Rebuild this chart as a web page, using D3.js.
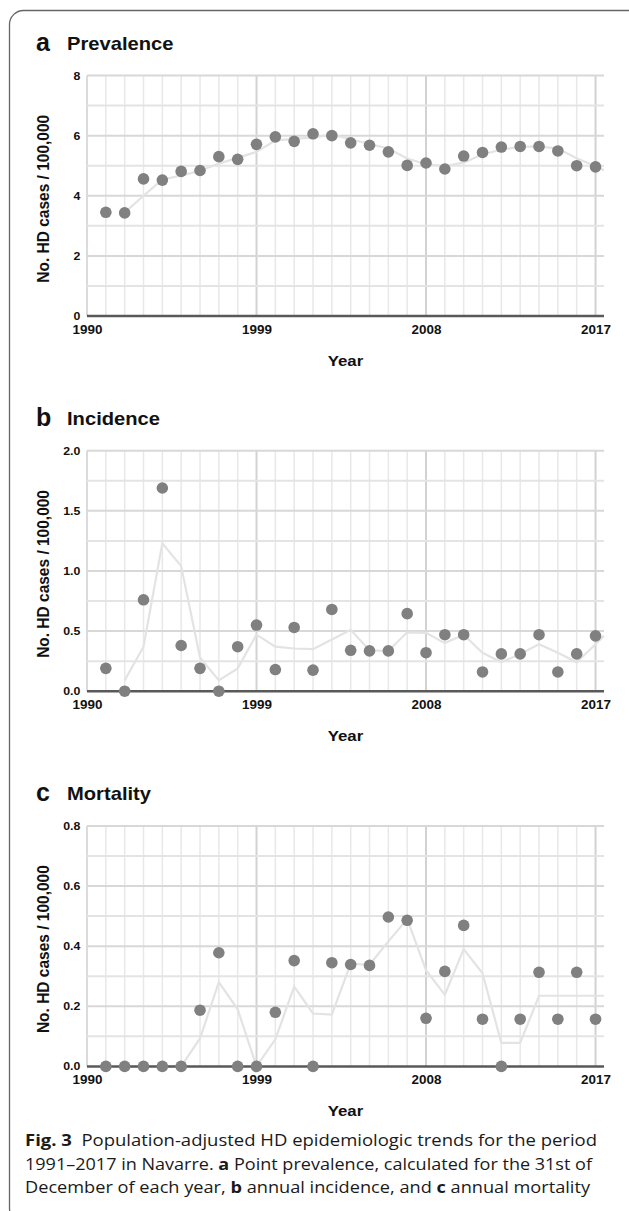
<!DOCTYPE html>
<html>
<head>
<meta charset="utf-8">
<script src="https://cdn.jsdelivr.net/npm/d3@7"></script>
<style>
  html, body { margin: 0; padding: 0; background: #fff; }
  svg { display: block; }
  .tick text { font-family: "Liberation Sans", Arial, sans-serif; font-weight: bold; fill: #111; }
  .chart-text { font-family: "Liberation Sans", Arial, sans-serif; font-weight: bold; fill: #111; }
  .caption { font-family: "Open Sans", "Noto Sans", sans-serif; fill: #1a1a1a; }
</style>
</head>
<body>
<svg id="fig" width="629" height="1211"></svg>
<script>
'use strict';

// ─── Data ────────────────────────────────────────────────────────────────

const YEARS = [1991, 1992, 1993, 1994, 1995, 1996, 1997, 1998, 1999, 2000,
               2001, 2002, 2003, 2004, 2005, 2006, 2007, 2008, 2009, 2010,
               2011, 2012, 2013, 2014, 2015, 2016, 2017];

const PREVALENCE = [3.45, 3.43, 4.56, 4.52, 4.81, 4.84, 5.30, 5.21, 5.71, 5.96,
                    5.81, 6.06, 6.00, 5.76, 5.68, 5.46, 5.01, 5.09, 4.89, 5.32,
                    5.44, 5.62, 5.64, 5.64, 5.49, 5.00, 4.96];

const INCIDENCE = [0.19, 0.00, 0.76, 1.69, 0.38, 0.19, 0.00, 0.37, 0.55, 0.18,
                   0.53, 0.175, 0.68, 0.34, 0.335, 0.335, 0.645, 0.32, 0.47, 0.47,
                   0.16, 0.31, 0.31, 0.47, 0.16, 0.31, 0.46];

const MORTALITY = [0.00, 0.00, 0.00, 0.00, 0.00, 0.187, 0.378, 0.00, 0.00, 0.18,
                   0.352, 0.00, 0.345, 0.339, 0.336, 0.497, 0.486, 0.16, 0.316, 0.469,
                   0.157, 0.00, 0.157, 0.313, 0.157, 0.313, 0.157];

// light grey trend lines (start at 1992, run out to the right edge of the plot)
const TREND_YEARS = [1992, 1993, 1994, 1995, 1996, 1997, 1998, 1999, 2000, 2001,
                     2002, 2003, 2004, 2005, 2006, 2007, 2008, 2009, 2010, 2011,
                     2012, 2013, 2014, 2015, 2016, 2017, 2017.45];

const PREVALENCE_TREND = [3.44, 4.00, 4.54, 4.67, 4.83, 5.07, 5.26, 5.46, 5.84, 5.89,
                          5.94, 6.03, 5.88, 5.72, 5.57, 5.24, 5.05, 4.99, 5.10, 5.38,
                          5.53, 5.63, 5.64, 5.57, 5.25, 4.98, 4.85];

const INCIDENCE_TREND = [0.09, 0.37, 1.23, 1.04, 0.28, 0.09, 0.19, 0.47, 0.37, 0.355,
                         0.35, 0.43, 0.51, 0.34, 0.335, 0.49, 0.485, 0.40, 0.47, 0.32,
                         0.24, 0.31, 0.39, 0.32, 0.24, 0.39, 0.46];

const MORTALITY_TREND = [0.00, 0.00, 0.00, 0.00, 0.093, 0.28, 0.19, 0.00, 0.09, 0.265,
                         0.176, 0.172, 0.342, 0.338, 0.416, 0.49, 0.32, 0.238, 0.39, 0.31,
                         0.078, 0.078, 0.235, 0.235, 0.235, 0.235, 0.235];

// axis ticks
const X_DOMAIN  = [1990, 2017.45];
const X_TICKS   = [1990, 1999, 2008, 2017];
const PREV_TICKS = [0, 2, 4, 6, 8];
const PREV_MINOR = [1, 3, 5, 7];
const INC_TICKS  = [0, 0.5, 1.0, 1.5, 2.0];
const INC_MINOR  = [0.25, 0.75, 1.25, 1.75];
const MORT_TICKS = [0, 0.2, 0.4, 0.6, 0.8];
const MORT_MINOR = [0.1, 0.3, 0.5, 0.7];

const PANELS = [
  { letter: 'a', title: 'Prevalence', values: PREVALENCE, trend: PREVALENCE_TREND,
    ticks: PREV_TICKS, minor: PREV_MINOR, fmt: d3.format('d') },
  { letter: 'b', title: 'Incidence',  values: INCIDENCE,  trend: INCIDENCE_TREND,
    ticks: INC_TICKS,  minor: INC_MINOR,  fmt: d3.format('.1f') },
  { letter: 'c', title: 'Mortality',  values: MORTALITY,  trend: MORTALITY_TREND,
    ticks: MORT_TICKS, minor: MORT_MINOR, fmt: d3.format('.1f') }
];

// ─── Layout ──────────────────────────────────────────────────────────────

const PLOT_LEFT  = 87;
const PLOT_RIGHT = 604;
const PLOT_H     = 240.5;
const FIRST_TOP  = 75.5;
const PANEL_STEP = 375.2;
const STRETCH    = 1.12;   // the figure's chart text is a bit wider than Arial

const svg = d3.select('#fig');

// rounded frame, runs off the right and bottom edges
svg.append('rect')
  .attr('x', 9.5).attr('y', 10.5).attr('width', 660).attr('height', 1212).attr('rx', 14)
  .attr('fill', 'none').attr('stroke', '#666').attr('stroke-width', 1.3);

function drawPanel(p, i) {
  const top    = FIRST_TOP + i * PANEL_STEP;
  const bottom = top + PLOT_H;
  const xScale = d3.scaleLinear().domain(X_DOMAIN).range([PLOT_LEFT, PLOT_RIGHT]);
  const yScale = d3.scaleLinear().domain([0, p.ticks[p.ticks.length - 1]]).range([bottom, top]);
  const g = svg.append('g');

  // title
  g.append('text').attr('class', 'chart-text')
    .attr('x', 36).attr('y', top - 25).attr('font-size', 25).text(p.letter);
  g.append('text').attr('class', 'chart-text')
    .attr('transform', `translate(67,${top - 25.5}) scale(${STRETCH},1)`)
    .attr('font-size', 18).text(p.title);

  // grid
  const grid = g.append('g');
  grid.selectAll('line.vgrid').data(YEARS).join('line')
    .attr('x1', d => xScale(d)).attr('x2', d => xScale(d))
    .attr('y1', top).attr('y2', bottom)
    .attr('stroke', d => X_TICKS.includes(d) ? '#d2d2d2' : '#e8e8e8')
    .attr('stroke-width', d => X_TICKS.includes(d) ? 2 : 1.5);
  grid.append('line')
    .attr('x1', xScale(1990)).attr('x2', xScale(1990)).attr('y1', top).attr('y2', bottom)
    .attr('stroke', '#cfcfcf').attr('stroke-width', 1.5);
  grid.selectAll('line.hminor').data(p.minor).join('line')
    .attr('x1', PLOT_LEFT).attr('x2', PLOT_RIGHT)
    .attr('y1', d => yScale(d)).attr('y2', d => yScale(d))
    .attr('stroke', '#e4e4e4').attr('stroke-width', 2);
  grid.selectAll('line.hmajor').data(p.ticks.slice(1)).join('line')
    .attr('x1', PLOT_LEFT).attr('x2', PLOT_RIGHT)
    .attr('y1', d => yScale(d)).attr('y2', d => yScale(d))
    .attr('stroke', '#d8d8d8').attr('stroke-width', 2);

  // trend line
  const lineGen = d3.line().x(d => xScale(d[0])).y(d => yScale(d[1]));
  g.append('path').datum(d3.zip(TREND_YEARS, p.trend))
    .attr('d', lineGen).attr('fill', 'none')
    .attr('stroke', '#e3e3e3').attr('stroke-width', 2.2);

  // zero baseline
  g.append('line')
    .attr('x1', PLOT_LEFT).attr('x2', PLOT_RIGHT).attr('y1', yScale(0)).attr('y2', yScale(0))
    .attr('stroke', '#595959').attr('stroke-width', 2.5);

  // points
  g.selectAll('circle').data(d3.zip(YEARS, p.values)).join('circle')
    .attr('cx', d => xScale(d[0])).attr('cy', d => yScale(d[1])).attr('r', 5.8)
    .attr('fill', '#808080');

  // axes (labels only)
  const xAxis = g.append('g').attr('transform', `translate(0,${bottom})`)
    .call(d3.axisBottom(xScale).tickValues(X_TICKS).tickFormat(d3.format('d'))
      .tickSize(0).tickPadding(9));
  const yAxis = g.append('g').attr('transform', `translate(${PLOT_LEFT},0)`)
    .call(d3.axisLeft(yScale).tickValues(p.ticks).tickFormat(p.fmt)
      .tickSize(0).tickPadding(6));
  [xAxis, yAxis].forEach(ax => {
    ax.select('.domain').remove();
    ax.selectAll('.tick line').remove();
    ax.attr('font-family', null).attr('font-size', null);
  });
  xAxis.selectAll('.tick text').attr('font-size', 12).attr('transform', `scale(${STRETCH},1)`);
  yAxis.selectAll('.tick text').attr('font-size', 11).attr('transform', `scale(${STRETCH},1)`);

  // axis titles
  g.append('text').attr('class', 'chart-text')
    .attr('transform', `translate(${(PLOT_LEFT + PLOT_RIGHT) / 2},${bottom + 50}) scale(${STRETCH},1)`)
    .attr('text-anchor', 'middle').attr('font-size', 15).text('Year');
  g.append('text').attr('class', 'chart-text')
    .attr('transform', `translate(43,${(top + bottom) / 2 + 3}) scale(${STRETCH},1) rotate(-90)`)
    .attr('text-anchor', 'middle').attr('dy', '0.35em').attr('font-size', 15.5)
    .text('No. HD cases / 100,000');
}

PANELS.forEach(drawPanel);

// ─── Caption ─────────────────────────────────────────────────────────────

const CAPTION = [
  [['Fig. 3', true], ['  Population-adjusted HD epidemiologic trends for the period', false]],
  [['1991–2017 in Navarre. ', false], ['a', true], [' Point prevalence, calculated for the 31st of', false]],
  [['December of each year, ', false], ['b', true], [' annual incidence, and ', false], ['c', true], [' annual mortality', false]]
];
const CAPTION_WIDTHS = [572, 567, 565];

CAPTION.forEach((parts, i) => {
  const t = svg.append('text').attr('class', 'caption')
    .attr('x', 25).attr('y', 1146 + i * 23.5).attr('font-size', 16.5)
    .attr('xml:space', 'preserve')
    .attr('textLength', CAPTION_WIDTHS[i]).attr('lengthAdjust', 'spacingAndGlyphs');
  parts.forEach(([s, bold]) => {
    t.append('tspan').attr('font-weight', bold ? 'bold' : 'normal')
      .style('white-space', 'pre').text(s);
  });
});
</script>
</body>
</html>
